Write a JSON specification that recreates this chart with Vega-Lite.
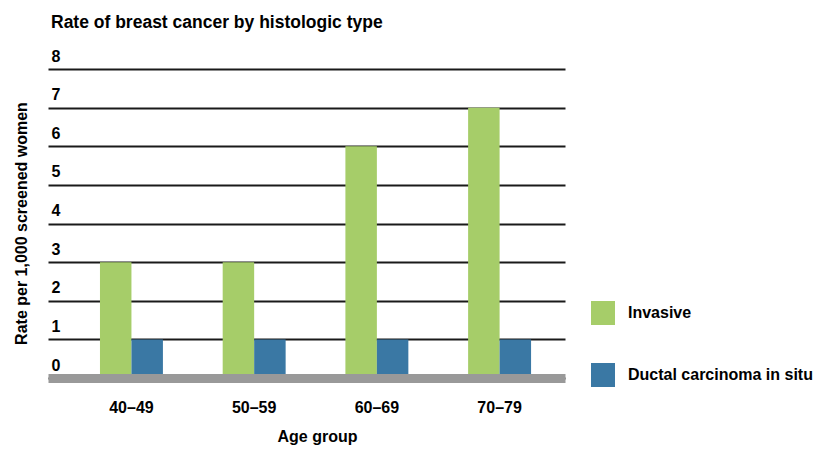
{
  "$schema": "https://vega.github.io/schema/vega-lite/v6.json",
  "width": 517,
  "height": 309,
  "autosize": "none",
  "padding": {"left": 48, "top": 69, "right": 253, "bottom": 72},
  "background": "white",
  "config": {
    "font": "Liberation Sans",
    "view": {"stroke": null},
    "title": {"fontSize": 17.5, "fontWeight": "bold", "color": "#000"}
  },
  "title": {
    "text": "Rate of breast cancer by histologic type",
    "anchor": "start",
    "frame": "group",
    "baseline": "alphabetic",
    "offset": 3,
    "dx": 3
  },
  "data": {
    "values": [
      {"age": "40–49", "type": "Invasive", "rate": 3},
      {"age": "40–49", "type": "Ductal carcinoma in situ", "rate": 1},
      {"age": "50–59", "type": "Invasive", "rate": 3},
      {"age": "50–59", "type": "Ductal carcinoma in situ", "rate": 1},
      {"age": "60–69", "type": "Invasive", "rate": 6},
      {"age": "60–69", "type": "Ductal carcinoma in situ", "rate": 1},
      {"age": "70–79", "type": "Invasive", "rate": 7},
      {"age": "70–79", "type": "Ductal carcinoma in situ", "rate": 1}
    ]
  },
  "mark": {"type": "bar"},
  "encoding": {
    "x": {
      "field": "age",
      "type": "nominal",
      "scale": {"paddingInner": 0.487, "paddingOuter": 0.35, "align": 0.605},
      "axis": {
        "title": "Age group",
        "zindex": 1,
        "domain": true,
        "domainColor": "#999999",
        "domainWidth": 9,
        "domainCap": "butt",
        "ticks": false,
        "tickSize": 0,
        "labelAngle": 0,
        "labelFontSize": 16,
        "labelFontWeight": "bold",
        "labelColor": "#000",
        "labelBaseline": "alphabetic",
        "labelPadding": 34,
        "titleFontSize": 16,
        "titleFontWeight": "bold",
        "titleColor": "#000",
        "titleBaseline": "alphabetic",
        "titleAlign": "center",
        "titleX": 269,
        "titleY": 63
      }
    },
    "xOffset": {
      "field": "type",
      "type": "nominal",
      "scale": {"domain": ["Invasive", "Ductal carcinoma in situ"], "paddingInner": 0, "paddingOuter": 0}
    },
    "y": {
      "field": "rate",
      "type": "quantitative",
      "scale": {"domain": [0, 8], "nice": false},
      "axis": {
        "title": "Rate per 1,000 screened women",
        "values": [0, 1, 2, 3, 4, 5, 6, 7, 8],
        "labelOverlap": false,
        "grid": true,
        "gridColor": "#1a1a1a",
        "gridWidth": 2,
        "gridOpacity": 1,
        "domain": false,
        "ticks": false,
        "tickSize": 0,
        "labelFontSize": 16,
        "labelFontWeight": "bold",
        "labelColor": "#000",
        "labelAlign": "left",
        "labelBaseline": "alphabetic",
        "labelPadding": -3,
        "labelOffset": -8,
        "titleFontSize": 16,
        "titleFontWeight": "bold",
        "titleColor": "#000",
        "titleAngle": 270,
        "titleBaseline": "alphabetic",
        "titleAlign": "center",
        "titleX": -22,
        "titleY": 154
      }
    },
    "color": {
      "field": "type",
      "type": "nominal",
      "scale": {"domain": ["Invasive", "Ductal carcinoma in situ"], "range": ["#a6cd69", "#3a78a4"]},
      "legend": {
        "title": null,
        "orient": "none",
        "legendX": 543,
        "legendY": 232,
        "direction": "vertical",
        "symbolType": "square",
        "symbolSize": 576,
        "symbolStrokeWidth": 0,
        "symbolOpacity": 1,
        "labelFontSize": 16,
        "labelFontWeight": "bold",
        "labelColor": "#000",
        "labelOffset": 13,
        "labelLimit": 400,
        "rowPadding": 38,
        "padding": 0
      }
    }
  }
}
